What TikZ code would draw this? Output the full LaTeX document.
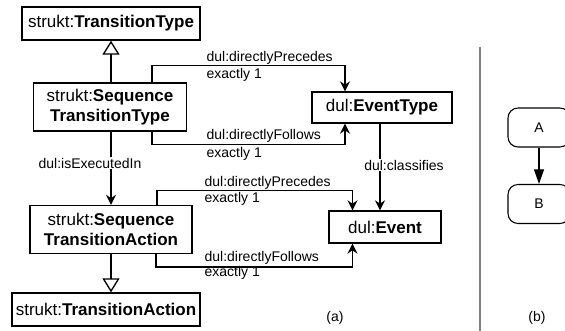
\documentclass[tikz,border=0pt]{standalone}
\usepackage{fontspec}
\setmainfont{Liberation Sans}
\usetikzlibrary{arrows.meta, positioning}

\begin{document}
\begin{tikzpicture}[x=0.75pt, y=-0.75pt]
  \tikzstyle{boite}=[draw, line width=1pt, inner sep=0pt, align=center,
    font=\fontsize{12.75}{15}\selectfont]
  \tikzstyle{etiq}=[inner sep=1pt, font=\fontsize{10.5}{12}\selectfont]
  \tikzstyle{fleche}=[-{Stealth[length=7.5pt,width=7.5pt,inset=2.5pt]}, line width=1pt]
  \tikzstyle{herit}=[-{Triangle[open,length=10.5pt,width=12.75pt]}, line width=1pt]
  \tikzstyle{ronde}=[draw, line width=0.8pt, rounded corners=7.5pt,
    minimum width=46.5pt, minimum height=29.25pt, font=\fontsize{10.5}{12}\selectfont]
  \useasboundingbox (0,0) rectangle (565,331);
  \clip (0,0) rectangle (565,331);
  % (a)
  \node[boite, minimum width=133.5pt, minimum height=24.75pt] (tt) at (111,23.5)
    {strukt:\textbf{TransitionType}};
  \node[boite, minimum width=114.75pt, minimum height=36pt] (stt) at (110,107)
    {strukt:\textbf{Sequence}\\\textbf{TransitionType}};
  \node[boite, minimum width=121.5pt, minimum height=36pt] (sta) at (111,229.5)
    {strukt:\textbf{Sequence}\\\textbf{TransitionAction}};
  \node[boite, minimum width=141pt, minimum height=24.75pt] (ta) at (106,309.5)
    {strukt:\textbf{TransitionAction}};
  \node[boite, minimum width=105pt, minimum height=23.25pt] (et) at (382,107.5)
    {dul:\textbf{EventType}};
  \node[boite, minimum width=84pt, minimum height=24pt] (ev) at (385,227)
    {dul:\textbf{Event}};
  \draw[herit] (stt.north -| tt.south) -- (tt.south);
  \draw[herit] (sta.south) -- (sta.south |- ta.north);
  \draw[fleche] ([xshift=31.5pt]stt.north) -- ++(0,-17) -| ([xshift=-27.75pt]et.north);
  \draw[fleche] ([xshift=31.5pt]stt.south) -- ++(0,13) -| ([xshift=-27.75pt]et.south);
  \draw[fleche] ([xshift=34.5pt]sta.north) -- ++(0,-14) -| ([xshift=-24.4pt]ev.north);
  \draw[fleche] ([xshift=33.75pt]sta.south) -- ++(0,13) -| ([xshift=-24.4pt]ev.south);
  \draw[fleche] (stt.south -| sta.north) -- (sta.north);
  \draw[fleche] ([xshift=-1.5pt]et.south) -- ([xshift=-1.5pt]et.south |- ev.north);
  \node[etiq, anchor=west] (p1) at (205,58) {dul:directlyPrecedes};
  \node[etiq, anchor=west] (e1) at (205,75) {exactly 1};
  \node[etiq, anchor=west] (f1) at (205,136) {dul:directlyFollows};
  \node[etiq, anchor=west] (e2) at (205,154) {exactly 1};
  \node[etiq, anchor=west] (p2) at (203,183) {dul:directlyPrecedes};
  \node[etiq, anchor=west] (e3) at (203,199) {exactly 1};
  \node[etiq, anchor=west] (f2) at (203,258) {dul:directlyFollows};
  \node[etiq, anchor=west] (e4) at (203,273) {exactly 1};
  \node[etiq, fill=white] (exe) at (90,163) {dul:isExecutedIn};
  \node[etiq, fill=white] (cla) at (404,165) {dul:classifies};
  \node[etiq] (la) at (335,318) {(a)};
  % separation
  \draw[gray, line width=0.8pt] (480,47) -- (480,331);
  % (b)
  \node[ronde] (A) at (539,127.5) {A};
  \node[ronde] (B) at (539,204) {B};
  \draw[-{Triangle[length=11pt,width=7.5pt]}, line width=1pt] (A) -- (B);
  \node[etiq] (lb) at (537,318) {(b)};
\end{tikzpicture}
\end{document}
